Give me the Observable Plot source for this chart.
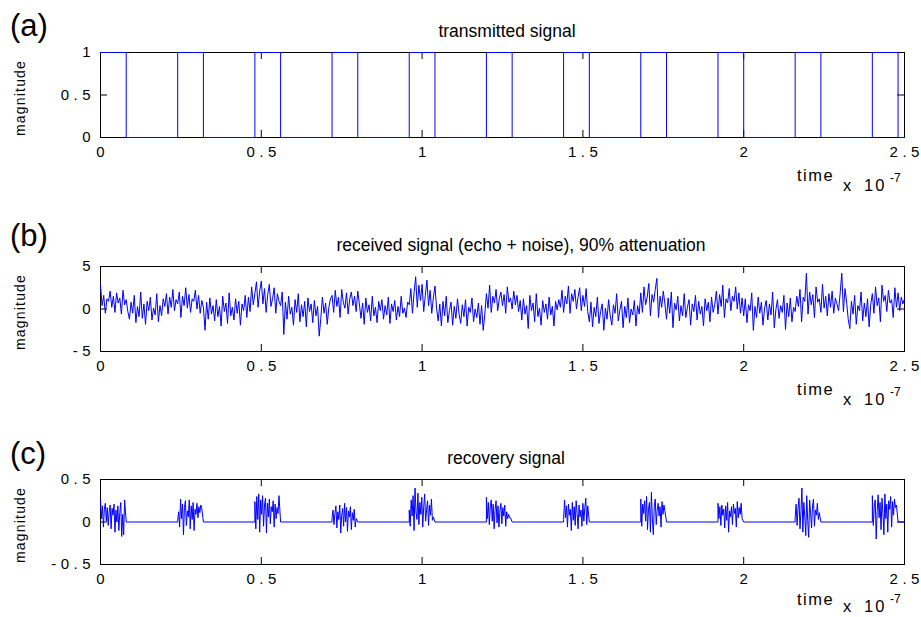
<!DOCTYPE html>
<html>
<head>
<meta charset="utf-8">
<script src="https://cdn.jsdelivr.net/npm/d3@7"></script>
<script src="https://cdn.jsdelivr.net/npm/@observablehq/plot@0.6"></script>
<style>
  body { margin: 0; background: #fff; }
  #root { position: relative; width: 921px; height: 617px; overflow: hidden; font-family: "Liberation Sans", Arial, sans-serif; }
  #root > svg { position: absolute; left: 0; }
  .ann text { font-family: "Liberation Sans", Arial, sans-serif; fill: #000; }
</style>
</head>
<body>
<div id="root"></div>
<script>
// ---------- data ----------
const xTicks = [0, 0.5, 1, 1.5, 2, 2.5];
const yTicksA = [0, 0.5, 1];
const yTicksB = [-5, 0, 5];
const yTicksC = [-0.5, 0, 0.5];

const titles = ["transmitted signal", "received signal (echo + noise), 90% attenuation", "recovery signal"];
const panelTags = ["(a)", "(b)", "(c)"];

// (a) transmitted signal: level changes (step-after)
const txTimes  = [0, 0.08, 0.24, 0.32, 0.48, 0.56, 0.72, 0.80, 0.96, 1.04, 1.20, 1.28, 1.44, 1.52, 1.68, 1.76, 1.92, 2.00, 2.16, 2.24, 2.40, 2.48, 2.50];
const txLevels = [1, 0, 1, 0, 1, 0, 1, 0, 1, 0, 1, 0, 1, 0, 1, 0, 1, 0, 1, 0, 1, 0, 0];

// (b) received signal, sample step 0.005 (x 1e-7)
const recvStep = 0.005;
const recv0 = [2.8, 0.4, 1.6, -0.5, 1.2, 0.9, 2.1, 0.2, 1.5, -0.4, 1.9, 0.7, 1.3, -0.6, 2.2, 0.5, 1.1, -0.3,
  -1.2, 0.8, -0.5, 1.6, -1.6, 0.3, -0.9, 2.0, -1.1, 0.6, -1.8, 0.9, -0.2, 1.4, -1.3, 0.1, -0.7, 1.8, -1.5, 0.4, -0.8, 1.2,
  0.3, 1.8, -0.6, 1.4, 0.2, 2.3, -0.2, 1.1, 0.6, 2.0, -1.0, 1.5, 0.4, 2.5, 0.1, 1.7, -0.4, 1.2, 0.9, 2.2, 0.0, 1.6, -0.5, 1.0,
  0.2, -2.5, 0.8, -1.2, 1.3, -0.6, 0.4, -1.4,
  1.1, -0.9, 0.3, -2.0, 1.5, -0.3, 0.7, -1.7, 1.9, -0.8, 0.2, -1.3, 1.2, -0.5, 0.9, -1.9, 0.6, -0.2, 1.6, -1.0,
  1.4, -0.3, 2.6, 0.5, 1.8, 3.2, 0.2, 2.1];
const recv1 = [3.3, 0.6, 2.4, -0.4, 1.7, 2.9, 0.3, 1.2, 2.5, -0.5, 1.8, 0.9,
  0.4, 2.0, -3.0, 0.8, -1.2, 1.5, -0.6, 0.2, -1.9, 1.1, -0.4, 1.8, -1.5, 0.5, -0.9, 0.9, -2.1, 1.3, -0.3, 0.6,
  -1.6, 1.0, -0.8, 0.3, -3.2, -1.1, 1.4, -0.5, 0.7, -1.8, 0.2, 1.2,
  1.6, -0.4, 2.2, 0.3, 1.4, -1.0, 2.3, 0.8, 0.1, 1.9, -0.6, 1.2, 2.0, 0.4, 1.5, -0.3, 2.1, 0.6,
  -1.1, 0.7, -1.8, 1.3, -0.4, 0.5, -1.4, 1.5, -0.8, 0.2, -1.6, 0.9, -0.2, 1.1, -1.2, 0.4, -0.7, 1.4, -1.7, 0.6,
  -0.3, 1.0, -1.3, 0.3, -0.9, 1.5, -0.5, 0.1, -1.0, 0.8,
  0.5, 2.4, -0.5, 1.9, 3.8, 0.2, 2.8, 1.0];
const recv2 = [2.9, -0.3, 1.6, 3.4, 0.4, 2.2, -0.5, 1.3, 2.7, 0.1,
  -1.4, 0.6, -2.0, 0.9, -0.8, 1.5, -1.6, -0.2, 0.8, -1.9, 0.3, -1.1, 1.2, -0.6, -1.7, 0.5, -0.9, 1.1, -2.0, 0.2,
  -0.4, 1.3, -1.5, 0.0, -1.0, 0.7, -1.8, 0.4, -2.5, -0.6,
  1.8, 0.1, 2.8, -0.4, 1.5, 0.7, 2.3, -0.2, 1.2, 2.0, 0.4, 1.7, -0.5, 2.6, 0.8, 1.3, 0.0, 2.1, 0.5, 1.6, -0.3, 1.0,
  -1.3, 1.2, -0.6, 0.4, -2.3, 1.6, -0.2, 0.7, -1.5, 1.8, -0.9, 0.1, -1.9, 1.0, -0.4, 0.6, -1.2, 1.4, -0.7, 0.3,
  -2.0, 0.9, -0.1, 1.1,
  0.2, 2.2, -0.4, 1.5, 0.6, 2.7, -0.5, 1.8, 0.9, 2.3, 0.0, 1.4, 2.5, -0.2];
const recv3 = [1.6, 0.3, 2.4, -0.3,
  -1.5, 0.8, -2.1, 0.2, -0.9, 1.4, -1.7, -0.3, 0.6, -2.5, 0.1, -1.2, 1.1, -0.8, -1.9, 0.5, -0.5, 1.8, -1.4, -0.1,
  0.9, -2.2, 0.3, -1.0, 1.3, -1.6, 0.0, -0.7, 1.0, -2.0, 0.4, -0.6,
  1.9, -0.4, 2.6, 0.5, 1.4, 3.0, -0.8, 1.7, 0.8, 2.3, 3.6, -1.0, 1.5, 0.2, 2.1, 0.6,
  -1.2, 1.3, -0.5, 2.0, -2.2, 0.7, -0.1, 1.5, -1.4, 0.4, -0.8, 1.8, -1.0, 0.2, 1.1, -1.9, 0.6, -0.3, 1.6, -1.3,
  0.9, -0.6, 0.3, -2.0, 1.2, -0.2, 0.8, -1.5, 1.4, -0.4,
  0.5, 2.1, -0.6, 1.7, 0.3, 2.8, -1.0, 1.2, 0.7, 2.4, -0.2, 1.5, 0.9, 2.6, 0.0, 1.9, -0.5, 1.3];
const recv4 = [-0.8, 1.2, -1.6, 0.5, -0.2, 1.9, -2.5, 0.3, -1.0, 1.4, -0.5, 0.8, -1.9, 0.1, 1.0, -1.3, 0.6, -0.7,
  2.0, -2.2, -0.1, 1.1, -1.1, 0.4, -0.4, 1.6, -2.4, 0.7, -0.9, 1.3, -1.5, 0.2, -0.3, 1.5,
  0.3, 2.3, -1.5, 1.4, 0.9, 4.2, -0.6, 2.0, 0.5, 1.7, -1.0, 2.6, 0.8, 1.2, -0.4, 2.9, 0.1, 1.5,
  -0.8, 1.8, 0.2, 2.1, -0.5, 1.3, 0.6, -0.2,
  1.9, 4.2, -0.3, 2.4, 0.8, -1.2,
  -2.3, 0.9, -0.6, 1.6, -1.8, 0.4, -0.2, 2.0, -1.4, 0.7, -0.9, 1.2, -2.1, 0.5,
  1.8, -0.5, 2.6, 0.4, 1.3, -1.5, 2.8, 0.9, 1.6, -0.3, 2.2, 0.7, 1.1, -1.0, 2.5, 0.2, 1.9, -0.2, 1.4, 0.6, 1.2];

// (c) recovery signal: bursts during each pulse, sample step 0.003
const burstStep = 0.003;
const burst0  = [0.27, 0.04, 0.19, -0.06, 0.15, 0.22, 0.01, 0.17, -0.04, 0.12, 0.20, -0.08, 0.16, 0.08, 0.21, -0.12, 0.14, 0.00, 0.19, -0.10, 0.11, 0.23, -0.17, 0.09, -0.15, 0.26];
const burst1  = [0.02, 0.12, -0.06, 0.27, 0.04, 0.21, -0.15, 0.17, 0.25, -0.04, 0.13, 0.06, 0.26, -0.08, 0.19, 0.03, 0.23, -0.10, 0.15, 0.09, 0.22, 0.05, 0.18, 0.11, 0.20, 0.16];
const burst2  = [0.24, -0.08, 0.30, 0.03, 0.33, -0.12, 0.26, 0.09, 0.31, -0.05, 0.20, 0.28, -0.13, 0.22, 0.06, 0.27, -0.02, 0.18, 0.12, 0.25, -0.06, 0.21, 0.04, 0.17, 0.10, 0.31];
const burst3  = [0.05, 0.14, -0.03, 0.10, 0.19, -0.07, 0.12, 0.03, 0.20, -0.13, 0.08, 0.16, -0.05, 0.22, 0.00, 0.17, -0.11, 0.13, 0.06, 0.18, -0.09, 0.11, 0.02, 0.15, -0.06, 0.04];
const burst4  = [0.14, -0.05, 0.26, 0.07, 0.31, -0.10, 0.40, 0.12, 0.03, 0.34, -0.03, 0.23, 0.09, 0.29, -0.06, 0.18, 0.33, 0.01, 0.15, 0.25, -0.04, 0.20, 0.08, 0.27, 0.02, 0.06];
const burst5  = [0.29, 0.04, 0.23, -0.03, 0.18, 0.26, 0.01, 0.21, -0.08, 0.15, 0.25, -0.01, 0.19, -0.06, 0.13, 0.22, -0.02, 0.17, 0.07, 0.20, -0.05, 0.12, 0.04, 0.09, 0.05, 0.05];
const burst6  = [0.03, 0.26, 0.05, 0.19, -0.06, 0.21, 0.08, 0.15, -0.10, 0.23, 0.02, 0.18, -0.04, 0.25, 0.10, -0.08, 0.20, 0.06, 0.14, -0.05, 0.22, 0.01, 0.17, 0.28, -0.03, 0.19];
const burst7  = [0.27, -0.05, 0.21, 0.10, 0.25, 0.01, 0.30, -0.09, 0.16, 0.23, -0.12, 0.35, 0.04, -0.15, 0.19, 0.27, -0.03, 0.14, 0.22, 0.07, 0.18, -0.06, 0.24, 0.09, 0.20, 0.13];
const burst8  = [0.22, 0.04, 0.18, -0.04, 0.20, 0.08, 0.15, -0.07, 0.19, 0.02, 0.23, -0.12, 0.13, 0.06, 0.18, -0.03, 0.21, 0.10, 0.16, -0.06, 0.24, 0.05, 0.17, 0.09, 0.22, 0.04];
const burst9  = [0.05, 0.21, -0.04, 0.16, 0.28, -0.08, 0.12, 0.40, -0.12, 0.23, 0.06, -0.16, 0.31, 0.02, -0.18, 0.26, 0.10, -0.07, 0.19, 0.27, -0.05, 0.14, 0.08, 0.22, 0.03, 0.11];
const burst10 = [0.31, -0.04, 0.19, 0.26, -0.20, 0.12, 0.32, 0.05, 0.23, -0.09, 0.28, 0.10, -0.15, 0.33, 0.04, 0.21, -0.12, 0.25, 0.15, 0.30, -0.06, 0.24, 0.08, 0.27, 0.17, 0.20];

// ---------- build tables ----------
const txData = txTimes.map((t, i) => ({t, v: txLevels[i]}));
const recvData = [recv0, recv1, recv2, recv3, recv4].flat().map((v, i) => ({t: i * recvStep, v}));

const pulseStarts = txTimes.filter((t, i) => txLevels[i] === 1);
const pulseEnds = txTimes.filter((t, i) => i > 0 && txLevels[i - 1] === 1 && txLevels[i] === 0);
const bursts = [burst0, burst1, burst2, burst3, burst4, burst5, burst6, burst7, burst8, burst9, burst10];
const recData = [];
bursts.forEach((b, k) => {
  const s = pulseStarts[k];
  if (s > 0) recData.push({t: s, v: 0});
  b.forEach((v, i) => recData.push({t: s + i * burstStep, v}));
  recData.push({t: pulseEnds[k], v: 0});
});
recData.push({t: txTimes[txTimes.length - 1], v: 0});

// ---------- drawing ----------
const root = document.getElementById("root");
const W = 921, ML = 100, MR = 17, MT = 52, FH = 85;
const FW = W - ML - MR;
const TICK = 7;
const BLUE = "#0000ff";
const NS = "http://www.w3.org/2000/svg";

// spread the characters of tick labels apart (MATLAB-like spacing) without trailing space
function spreadChars(svg, selector, gap) {
  svg.querySelectorAll(selector).forEach(t => {
    const s = t.textContent;
    t.textContent = "";
    [...s].forEach((ch, i) => {
      const ts = document.createElementNS(NS, "tspan");
      if (i > 0) ts.setAttribute("dx", gap);
      ts.textContent = ch;
      t.appendChild(ts);
    });
  });
}

function panel(top, height, yDomain, yTicks, data, curve) {
  const svg = Plot.plot({
    width: W, height,
    marginLeft: ML, marginRight: MR, marginTop: MT, marginBottom: height - MT - FH,
    x: {domain: [0, 2.5]},
    y: {domain: yDomain},
    style: {background: "transparent", fontFamily: "'Liberation Sans', Arial, sans-serif", color: "#000", overflow: "visible"},
    marks: [
      Plot.frame({stroke: "#000", strokeWidth: 1}),
      Plot.tickX(xTicks, {x: d => d, insetTop: FH - TICK, stroke: "#000"}),
      Plot.tickX(xTicks, {x: d => d, insetBottom: FH - TICK, stroke: "#000"}),
      Plot.tickY(yTicks, {y: d => d, insetRight: FW - TICK, stroke: "#000"}),
      Plot.tickY(yTicks, {y: d => d, insetLeft: FW - TICK, stroke: "#000"}),
      Plot.axisX(xTicks, {tickSize: 0, tickPadding: 9, fontSize: 15, label: null, tickFormat: d => String(d)}),
      Plot.axisY(yTicks, {tickSize: 0, tickPadding: 10, fontSize: 15, label: null, tickFormat: d => String(d)}),
      Plot.line(data, {x: "t", y: "v", stroke: BLUE, strokeWidth: 1, curve})
    ]
  });
  spreadChars(svg, 'g[aria-label="x-axis tick label"] text', 4.5);
  spreadChars(svg, 'g[aria-label="y-axis tick label"] text', 4.5);
  svg.style.top = top + "px";
  root.appendChild(svg);
}

panel(0, 214, [0, 1], yTicksA, txData, "step-after");
panel(214, 213, [-5, 5], yTicksB, recvData, "linear");
panel(427, 190, [-0.5, 0.5], yTicksC, recData, "linear");

// annotation overlay
const offsets = [0, 214, 427];
const titleX = [507, 521, 506];
const tagBase = [36, 246, 464];
const expBase = [191, 191, 185];   // baseline of "x 10" under each panel (last one kept inside the page)
const ann = d3.select(root).append("svg")
  .attr("class", "ann")
  .attr("width", W).attr("height", 617)
  .style("top", "0px");
offsets.forEach((o, k) => {
  ann.append("text").attr("x", 10).attr("y", tagBase[k]).attr("font-size", 31).text(panelTags[k]);
  ann.append("text").attr("x", titleX[k]).attr("y", o + 37).attr("font-size", 17.5).attr("text-anchor", "middle").text(titles[k]);
  ann.append("text").attr("transform", `translate(25,${o + 98}) rotate(-90)`).attr("font-size", 14)
    .attr("text-anchor", "middle").style("letter-spacing", "1.2px").text("magnitude");
  ann.append("text").attr("x", 797).attr("y", o + 181 - (191 - expBase[k]) / 2).attr("font-size", 16.5).style("letter-spacing", "1.5px").text("time");
  ann.append("text").attr("x", 843).attr("y", o + expBase[k]).attr("font-size", 16.5).text("x");
  ann.append("text").attr("x", 864).attr("y", o + expBase[k]).attr("font-size", 16.5).style("letter-spacing", "2px").text("10");
  ann.append("text").attr("x", 890).attr("y", o + expBase[k] - 9).attr("font-size", 12).text("-7");
});
</script>
</body>
</html>
